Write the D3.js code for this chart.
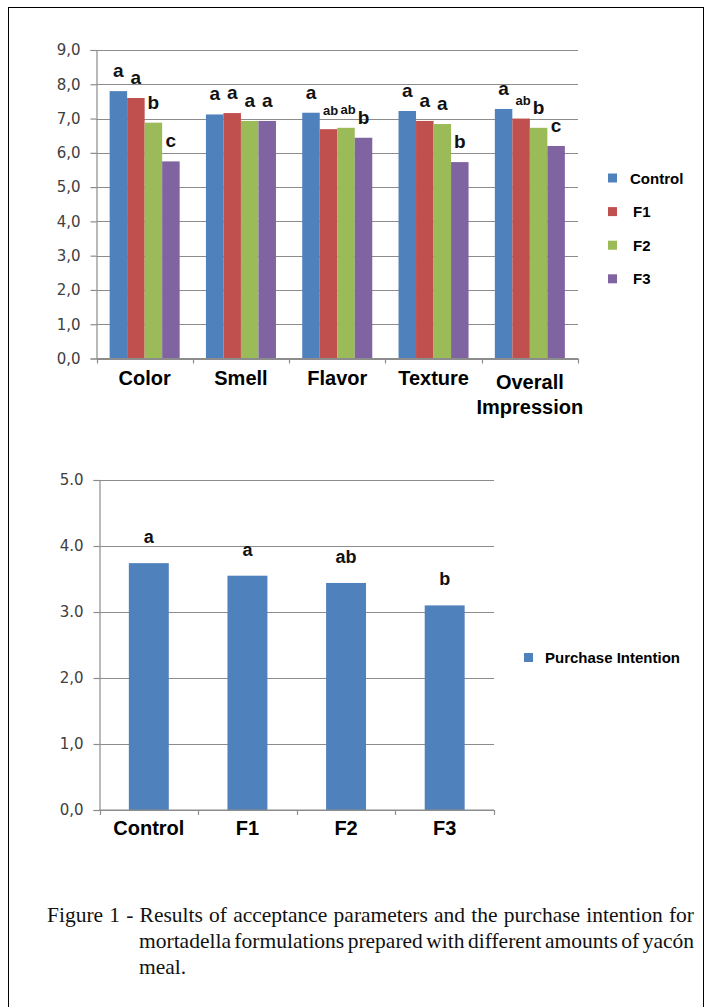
<!DOCTYPE html>
<html>
<head>
<meta charset="utf-8">
<script src="https://cdn.jsdelivr.net/npm/d3@7"></script>
<style>
  html, body { margin: 0; padding: 0; background: #fff; }
  svg { display: block; }
</style>
</head>
<body>
<svg id="fig" width="705" height="1007"></svg>
<script>
// Sensory acceptance scores (hedonic scale) per attribute and formulation
const attributes = ["Color", "Smell", "Flavor", "Texture", "Overall Impression"];
const formulations = ["Control", "F1", "F2", "F3"];
const controlScores = [7.80, 7.12, 7.17, 7.22, 7.28];
const f1Scores = [7.60, 7.16, 6.69, 6.93, 7.00];
const f2Scores = [6.88, 6.93, 6.73, 6.84, 6.73];
const f3Scores = [5.75, 6.93, 6.44, 5.73, 6.20];
// Tukey grouping letters for each bar
const controlLetters = ["a", "a", "a", "a", "a"];
const f1Letters = ["a", "a", "ab", "a", "ab"];
const f2Letters = ["b", "a", "ab", "a", "b"];
const f3Letters = ["c", "a", "b", "b", "c"];
const acceptanceTicks = ["0,0", "1,0", "2,0", "3,0", "4,0", "5,0", "6,0", "7,0", "8,0", "9,0"];

// Purchase intention scores
const purchaseLabel = "Purchase Intention";
const purchaseScores = [3.74, 3.55, 3.44, 3.10];
const purchaseLetters = ["a", "a", "ab", "b"];
const purchaseTicks = ["0,0", "1,0", "2,0", "3.0", "4.0", "5.0"];

const captionLines = [
  "Figure 1 - Results of acceptance parameters and the purchase intention for",
  "mortadella formulations prepared with different amounts of yacón",
  "meal."
];

const seriesColors = ["#4F81BD", "#C0504D", "#9BBB59", "#8064A2"];
const gridColor = "#8c8c8c";
const tickTextColor = "#404040";
const boldSans = "'Liberation Sans', Arial, sans-serif";

const svg = d3.select("#fig");

// page frame
svg.append("rect")
  .attr("x", 8.5).attr("y", 7.5)
  .attr("width", 695).attr("height", 1010)
  .attr("fill", "none").attr("stroke", "#000").attr("stroke-width", 1);

function drawValueAxis(g, y, tickLabels, left, right, labelEnd) {
  const values = tickLabels.map((_, i) => i);
  // gridlines
  g.append("g").selectAll("line").data(values).join("line")
    .attr("x1", left).attr("x2", right)
    .attr("y1", d => Math.round(y(d)) + 0.5).attr("y2", d => Math.round(y(d)) + 0.5)
    .attr("stroke", gridColor).attr("stroke-width", 1.2);
  const axis = d3.axisLeft(y)
    .tickValues(values)
    .tickSize(6)
    .tickPadding(labelEnd)
    .tickFormat(d => tickLabels[d]);
  const ag = g.append("g").attr("transform", `translate(${left},0)`).call(axis);
  ag.select(".domain").attr("stroke", gridColor).attr("stroke-width", 1.2);
  ag.selectAll(".tick line").attr("stroke", gridColor).attr("stroke-width", 1.2);
  ag.selectAll(".tick text")
    .attr("fill", tickTextColor)
    .style("font-family", "'DejaVu Sans', Verdana, sans-serif")
    .style("font-size", "15px");
}

function drawCategoryAxis(g, x, yBase) {
  const edges = x.domain().map(d => x(d)).concat([x.range()[1]]);
  g.append("line")
    .attr("x1", x.range()[0]).attr("x2", x.range()[1])
    .attr("y1", yBase).attr("y2", yBase)
    .attr("stroke", gridColor).attr("stroke-width", 1.2);
  g.append("g").selectAll("line").data(edges).join("line")
    .attr("x1", d => Math.round(d) + 0.5).attr("x2", d => Math.round(d) + 0.5)
    .attr("y1", yBase).attr("y2", yBase + 5)
    .attr("stroke", gridColor).attr("stroke-width", 1.2);
}

// ---------- Acceptance chart ----------
{
  const g = svg.append("g");
  const y = d3.scaleLinear().domain([0, 9]).range([358.5, 50]);
  const x0 = d3.scaleBand().domain(attributes).range([96.5, 578]).padding(0);
  const x1 = d3.scaleBand().domain(formulations).range([0, x0.bandwidth()])
    .paddingInner(0).paddingOuter(0.75);

  drawValueAxis(g, y, acceptanceTicks, 96.5, 578, 10);

  const scoreSets = [controlScores, f1Scores, f2Scores, f3Scores];
  const letterSets = [controlLetters, f1Letters, f2Letters, f3Letters];
  const bars = [];
  attributes.forEach((a, i) => {
    formulations.forEach((f, j) => {
      bars.push({ attr: a, form: f, value: scoreSets[j][i], letter: letterSets[j][i], color: seriesColors[j] });
    });
  });

  g.append("g").selectAll("rect").data(bars).join("rect")
    .attr("x", d => x0(d.attr) + x1(d.form))
    .attr("y", d => y(d.value))
    .attr("width", x1.bandwidth())
    .attr("height", d => y(0) - y(d.value))
    .attr("fill", d => d.color);

  drawCategoryAxis(g, x0, 358.5);

  g.append("g").selectAll("text").data(bars).join("text")
    .attr("x", d => x0(d.attr) + x1(d.form) + x1.bandwidth() / 2 + (d.letter.length > 1 ? 2 : 0))
    .attr("y", d => y(d.value) - 14)
    .attr("text-anchor", "middle")
    .style("font-family", boldSans)
    .style("font-weight", "bold")
    .style("font-size", d => d.letter.length > 1 ? "13px" : "19px")
    .attr("fill", "#111")
    .text(d => d.letter);

  // category labels (wrapped on spaces, vertically centred)
  attributes.forEach(a => {
    const words = a.split(" ");
    const t = g.append("text")
      .attr("text-anchor", "middle")
      .style("font-family", boldSans)
      .style("font-weight", "bold")
      .style("font-size", "20px")
      .attr("fill", "#000");
    const cx = x0(a) + x0.bandwidth() / 2;
    const firstBase = words.length > 1 ? 388.5 : 384.5;
    words.forEach((w, k) => {
      t.append("tspan").attr("x", cx).attr("y", firstBase + k * 25.5).text(w);
    });
  });

  // legend
  const lg = g.append("g");
  formulations.forEach((f, j) => {
    const cy = 178 + j * 33.6;
    lg.append("rect").attr("x", 608).attr("y", cy - 4.5).attr("width", 9).attr("height", 9)
      .attr("fill", seriesColors[j]);
    lg.append("text").attr("x", j === 0 ? 630 : 633).attr("y", cy + 5.5)
      .style("font-family", boldSans).style("font-weight", "bold").style("font-size", "15px")
      .attr("fill", "#000").text(f);
  });
}

// ---------- Purchase intention chart ----------
{
  const g = svg.append("g");
  const y = d3.scaleLinear().domain([0, 5]).range([810, 480]);
  const x = d3.scaleBand().domain(formulations).range([99.5, 494]).padding(0);
  const barFrac = 0.405;

  drawValueAxis(g, y, purchaseTicks, 99.5, 494, 10);

  const rows = formulations.map((f, i) => ({ form: f, value: purchaseScores[i], letter: purchaseLetters[i] }));
  const bw = x.bandwidth() * barFrac;

  g.append("g").selectAll("rect").data(rows).join("rect")
    .attr("x", d => x(d.form) + (x.bandwidth() - bw) / 2)
    .attr("y", d => y(d.value))
    .attr("width", bw)
    .attr("height", d => y(0) - y(d.value))
    .attr("fill", seriesColors[0]);

  drawCategoryAxis(g, x, 810);

  g.append("g").selectAll("text").data(rows).join("text")
    .attr("x", d => x(d.form) + x.bandwidth() / 2)
    .attr("y", d => y(d.value) - 20)
    .attr("text-anchor", "middle")
    .style("font-family", boldSans).style("font-weight", "bold").style("font-size", "18px")
    .attr("fill", "#111")
    .text(d => d.letter);

  g.append("g").selectAll("text").data(formulations).join("text")
    .attr("x", d => x(d) + x.bandwidth() / 2)
    .attr("y", 835)
    .attr("text-anchor", "middle")
    .style("font-family", boldSans).style("font-weight", "bold").style("font-size", "20px")
    .attr("fill", "#000")
    .text(d => d);

  g.append("rect").attr("x", 524).attr("y", 653).attr("width", 9).attr("height", 9)
    .attr("fill", seriesColors[0]);
  g.append("text").attr("x", 545).attr("y", 663)
    .style("font-family", boldSans).style("font-weight", "bold").style("font-size", "15px")
    .attr("fill", "#000").text(purchaseLabel);
}

// ---------- Caption (justified lines) ----------
{
  const cg = svg.append("g")
    .style("font-family", "'Liberation Serif', 'Times New Roman', serif")
    .style("font-size", "21.5px")
    .attr("fill", "#111");
  const lineStarts = [47, 139, 139];
  const lineEnd = 694;
  const baselines = [922, 948, 974];
  captionLines.forEach((line, li) => {
    const words = line.split(" ");
    const justify = li < captionLines.length - 1;
    const nodes = words.map(w => cg.append("text").attr("y", baselines[li]).text(w));
    const widths = nodes.map(n => n.node().getComputedTextLength());
    const total = d3.sum(widths);
    const space = justify
      ? (lineEnd - lineStarts[li] - total) / (words.length - 1)
      : 5;
    let cx = lineStarts[li];
    nodes.forEach((n, k) => {
      n.attr("x", cx);
      cx += widths[k] + space;
    });
  });
}
</script>
</body>
</html>
